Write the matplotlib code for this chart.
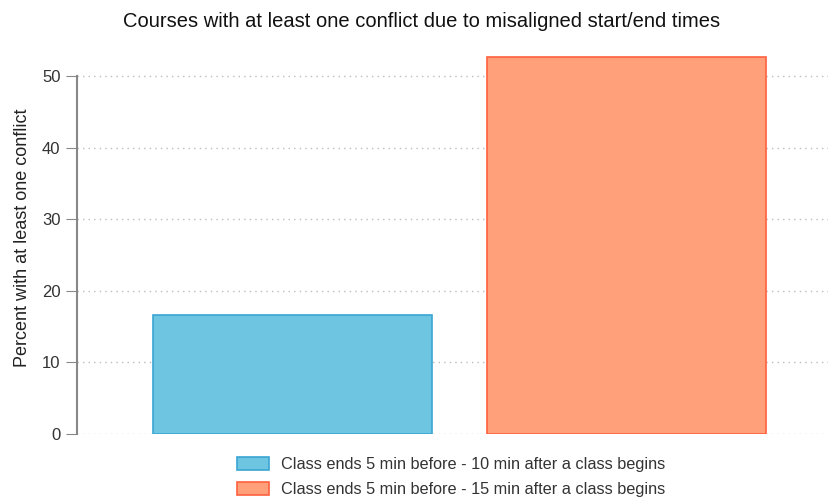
"""Bar chart: courses with at least one conflict due to misaligned start/end times."""
import matplotlib
matplotlib.use("Agg")
import matplotlib.pyplot as plt
from matplotlib.patches import Patch

categories = [
    "Class ends 5 min before - 10 min after a class begins",
    "Class ends 5 min before - 15 min after a class begins",
]
values = [16.6, 52.7]
fills = ["#6EC5E1", "#FFA07A"]
edges = ["#3AA6D2", "#FF6040"]
yticks = [0, 10, 20, 30, 40, 50]

plt.rcParams["font.family"] = ["Liberation Sans", "DejaVu Sans"]

fig = plt.figure(figsize=(8.3, 4.98), dpi=100)
ax = fig.add_axes([0.093, 0.1285, 0.904, 0.79])

x = list(range(len(values)))
ax.bar(x, values, width=0.834, color=fills, edgecolor=edges, linewidth=1.2, zorder=3)

ax.set_xlim(-0.644, 1.602)
ax.set_ylim(0, 55)
ax.set_yticks(yticks)
ax.set_xticks([])
ax.yaxis.grid(True, linestyle=(0, (1, 3)), color="#bbbbbb", linewidth=1.0, zorder=0)

for side in ["top", "right", "bottom"]:
    ax.spines[side].set_visible(False)
ax.spines["left"].set_bounds(0, 50)
ax.spines["left"].set_color("#888888")
ax.spines["left"].set_linewidth(1.5)
ax.tick_params(axis="y", length=8, color="#888888", labelsize=12, labelcolor="#333333", pad=4)

ax.set_ylabel("Percent with at least one conflict", fontsize=13, color="#222222", labelpad=8)
fig.suptitle("Courses with at least one conflict due to misaligned start/end times",
             fontsize=14.5, x=0.508, y=0.975, color="#111111")

handles = [Patch(facecolor=f, edgecolor=e, linewidth=1.2) for f, e in zip(fills, edges)]
fig.legend(handles, categories, loc="lower center", bbox_to_anchor=(0.543, -0.028), ncol=1,
           frameon=False, fontsize=11.7, handlelength=2.0, handleheight=0.85,
           labelspacing=0.6, handletextpad=0.7, labelcolor="#333333")

fig.savefig("out.png", dpi=100)
